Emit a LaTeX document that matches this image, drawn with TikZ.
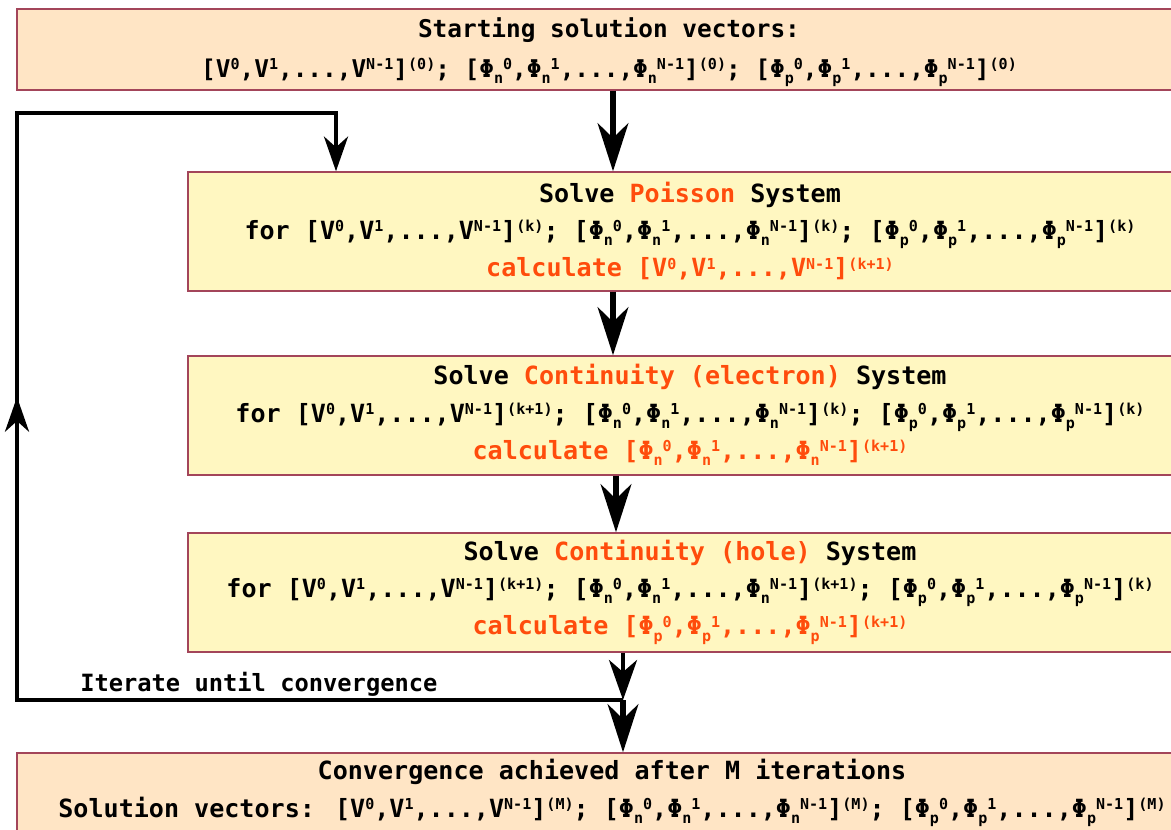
\documentclass[tikz,border=0pt]{standalone}
\usepackage{fontspec}
\setmainfont{DejaVu Sans Mono}
\usetikzlibrary{arrows.meta,fit}
\definecolor{peach}{HTML}{FFE5C5}
\definecolor{lemon}{HTML}{FFF7C1}
\definecolor{brd}{HTML}{A3455A}
\definecolor{hot}{HTML}{FF4C0C}
\newcommand{\supx}[1]{\raisebox{0.3em}{\fontsize{11.3}{11.3}\selectfont #1}}
\newcommand{\subx}[1]{\raisebox{-0.25em}{\fontsize{11.3}{11.3}\selectfont #1}}
\newcommand{\vv}[1]{[V\supx{0},V\supx{1},...,V\supx{N-1}]\supx{(#1)}}
\newcommand{\pp}[2]{[Φ\subx{#1}\supx{0},Φ\subx{#1}\supx{1},...,Φ\subx{#1}\supx{N-1}]\supx{(#2)}}
\tikzset{
  box/.style={draw=brd, line width=1.1pt, inner sep=0pt},
  outer/.style={box, fill=peach},
  inner/.style={box, fill=lemon},
  txt/.style={align=center, font=\bfseries\fontsize{18.8}{28}\selectfont, inner sep=0pt},
  main/.style={line width=4.2pt, -{Stealth[length=36pt,width=23pt,inset=11pt]}},
  fb/.style={line width=3.2pt},
  fbarrow/.style={fb, -{Stealth[length=26pt,width=18pt,inset=8pt]}},
}
\begin{document}
\begin{tikzpicture}[x=0.75pt,y=-0.75pt]
\useasboundingbox (0,0) rectangle (1171,830);
\clip (0,0) rectangle (1171,830);
% boxes
\node[outer, fit={(17,9) (1205,90)}] (b1) {};
\node[inner, fit={(188,172) (1192,291)}] (b2) {};
\node[inner, fit={(188,356) (1192,475)}] (b3) {};
\node[inner, fit={(188,533) (1192,652)}] (b4) {};
\node[outer, fit={(17,753) (1205,860)}] (b5) {};
% texts
\node[txt, font=\bfseries\fontsize{18.3}{30}\selectfont] (t1) at (609,52) {Starting solution vectors:\\
\vv{0}; \pp{n}{0}; \pp{p}{0}};
\node[txt] (t2) at (690,231) {Solve \textcolor{hot}{Poisson} System\\
for \vv{k}; \pp{n}{k}; \pp{p}{k}\\
\textcolor{hot}{calculate \vv{k+1}}};
\node[txt] (t3) at (690,415) {Solve \textcolor{hot}{Continuity (electron)} System\\
for \vv{k+1}; \pp{n}{k}; \pp{p}{k}\\
\textcolor{hot}{calculate \pp{n}{k+1}}};
\node[txt] (t4) at (690,592) {Solve \textcolor{hot}{Continuity (hole)} System\\
for \vv{k+1}; \pp{n}{k+1}; \pp{p}{k}\\
\textcolor{hot}{calculate \pp{p}{k+1}}};
\node[txt] (t5) at (612,793) {Convergence achieved after M iterations\\
Solution vectors: \vv{M}; \pp{n}{M}; \pp{p}{M}};
\node[txt, font=\bfseries\fontsize{17.8}{28}\selectfont, anchor=base west] (lbl) at (80,691) {Iterate until convergence};
% coordinates of the loop
\coordinate (j) at (623,700);
\coordinate (bl) at (17,700);
\coordinate (mid) at (17,397);
\coordinate (tl) at (17,113);
\coordinate (tr) at (336,113);
% main flow
\draw[main] (613,0 |- b1.south) -- (613,0 |- b2.north);
\draw[main] (613,0 |- b2.south) -- (613,0 |- b3.north);
\draw[main] (616,0 |- b3.south) -- (616,0 |- b4.north);
\draw[fb, -{Stealth[length=30pt,width=21pt,inset=9pt]}] (623,0 |- b4.south) -- (j);
\draw[main] (j) -- (623,0 |- b5.north);
% feedback loop
\draw[fb, line join=miter] (j) -- (bl) -- (tl) -- (tr) -- (336,150);
\draw[fbarrow] (tr) -- (336,0 |- b2.north);
\draw[fbarrow] (bl) -- (mid);
\end{tikzpicture}
\end{document}
